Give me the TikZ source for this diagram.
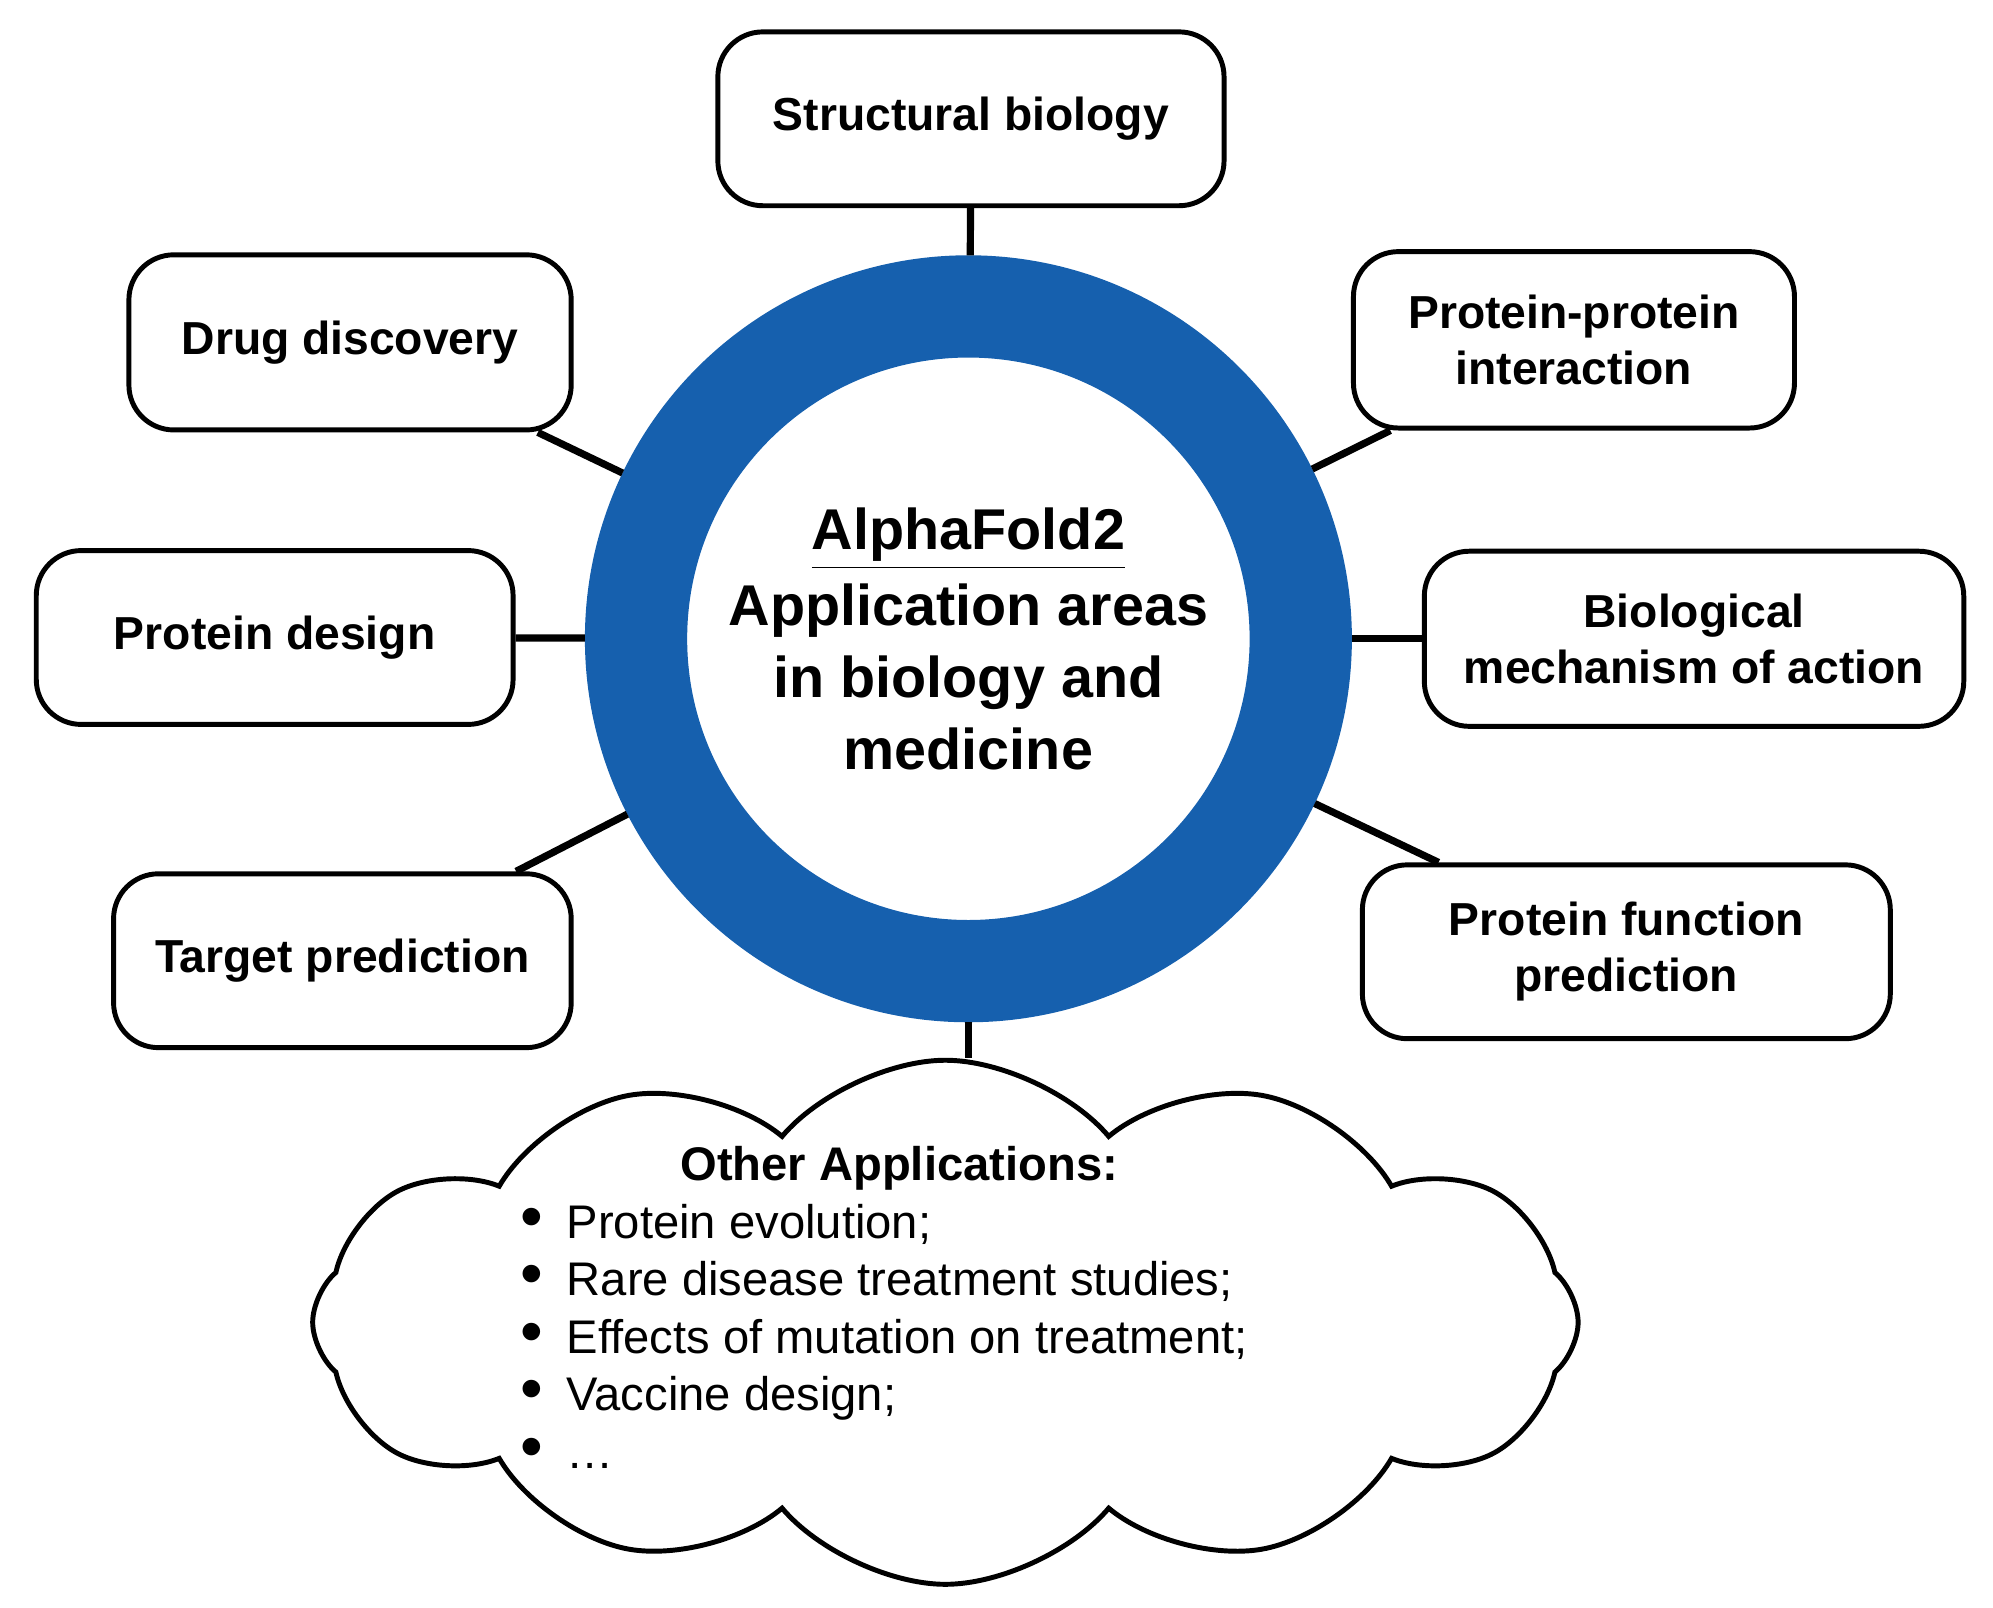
\documentclass[tikz,border=0pt]{standalone}
\usepackage{fontspec}
\setmainfont{Liberation Sans}
\usetikzlibrary{shapes.symbols}
\definecolor{ringblue}{HTML}{1660AE}
\newcommand{\bigdot}{\raisebox{0pt}[0pt][0pt]{\Large\textbullet}\enspace}
\begin{document}
\begin{tikzpicture}[x=0.01cm, y=-0.01cm]
        \useasboundingbox (0,0) rectangle (1560,1258);
        \tikzset{area/.style={draw, line width=1.1pt, rounded corners=10pt, align=center,
                font=\fontsize{10.3}{12.5}\selectfont\bfseries, inner sep=0pt}}
        \node[area, minimum width=3.96cm, minimum height=1.36cm] (struct) at (760,93) {Structural biology};
        \node[area, minimum width=3.46cm, minimum height=1.37cm] (drug) at (274,268) {Drug discovery};
        \node[area, minimum width=3.45cm, minimum height=1.38cm] (ppi) at (1232,266) {Protein-protein\\interaction};
        \node[area, minimum width=3.73cm, minimum height=1.36cm] (design) at (215,499) {Protein design};
        \node[area, minimum width=4.22cm, minimum height=1.37cm] (mech) at (1326,500) {Biological\\mechanism of action};
        \node[area, minimum width=3.58cm, minimum height=1.36cm] (target) at (268,752) {Target prediction};
        \node[area, minimum width=4.13cm, minimum height=1.36cm] (func) at (1273,745) {Protein function\\prediction};
        \node[draw=ringblue, line width=0.8cm, circle, minimum size=5.2cm, align=center,
              font=\fontsize{12.8}{16}\selectfont\bfseries] (ring) at (758,500)
              {\underline{AlphaFold2}\\[1pt]Application areas\\in biology and\\medicine};
        \node[cloud, draw, line width=1.1pt, cloud puffs=12, cloud puff arc=100, aspect=2.4,
              minimum width=9.9cm, minimum height=4.1cm, inner sep=0pt] (other) at (740,1035) {};
        \node[align=left, font=\fontsize{10.5}{12.8}\selectfont, anchor=north west] (list) at (395,885)
              {\hspace*{1.25cm}\textbf{Other Applications:}\\
               \bigdot Protein evolution;\\
               \bigdot Rare disease treatment studies;\\
               \bigdot Effects of mutation on treatment;\\
               \bigdot Vaccine design;\\
               \bigdot \dots};
        \foreach \b in {struct, drug, ppi, design, mech, target, func}
            \draw[line width=1.6pt] (\b) -- (ring);
        \draw[line width=1.6pt] (ring.south) -- (ring.south |- other.north);
    \end{tikzpicture}
\end{document}
